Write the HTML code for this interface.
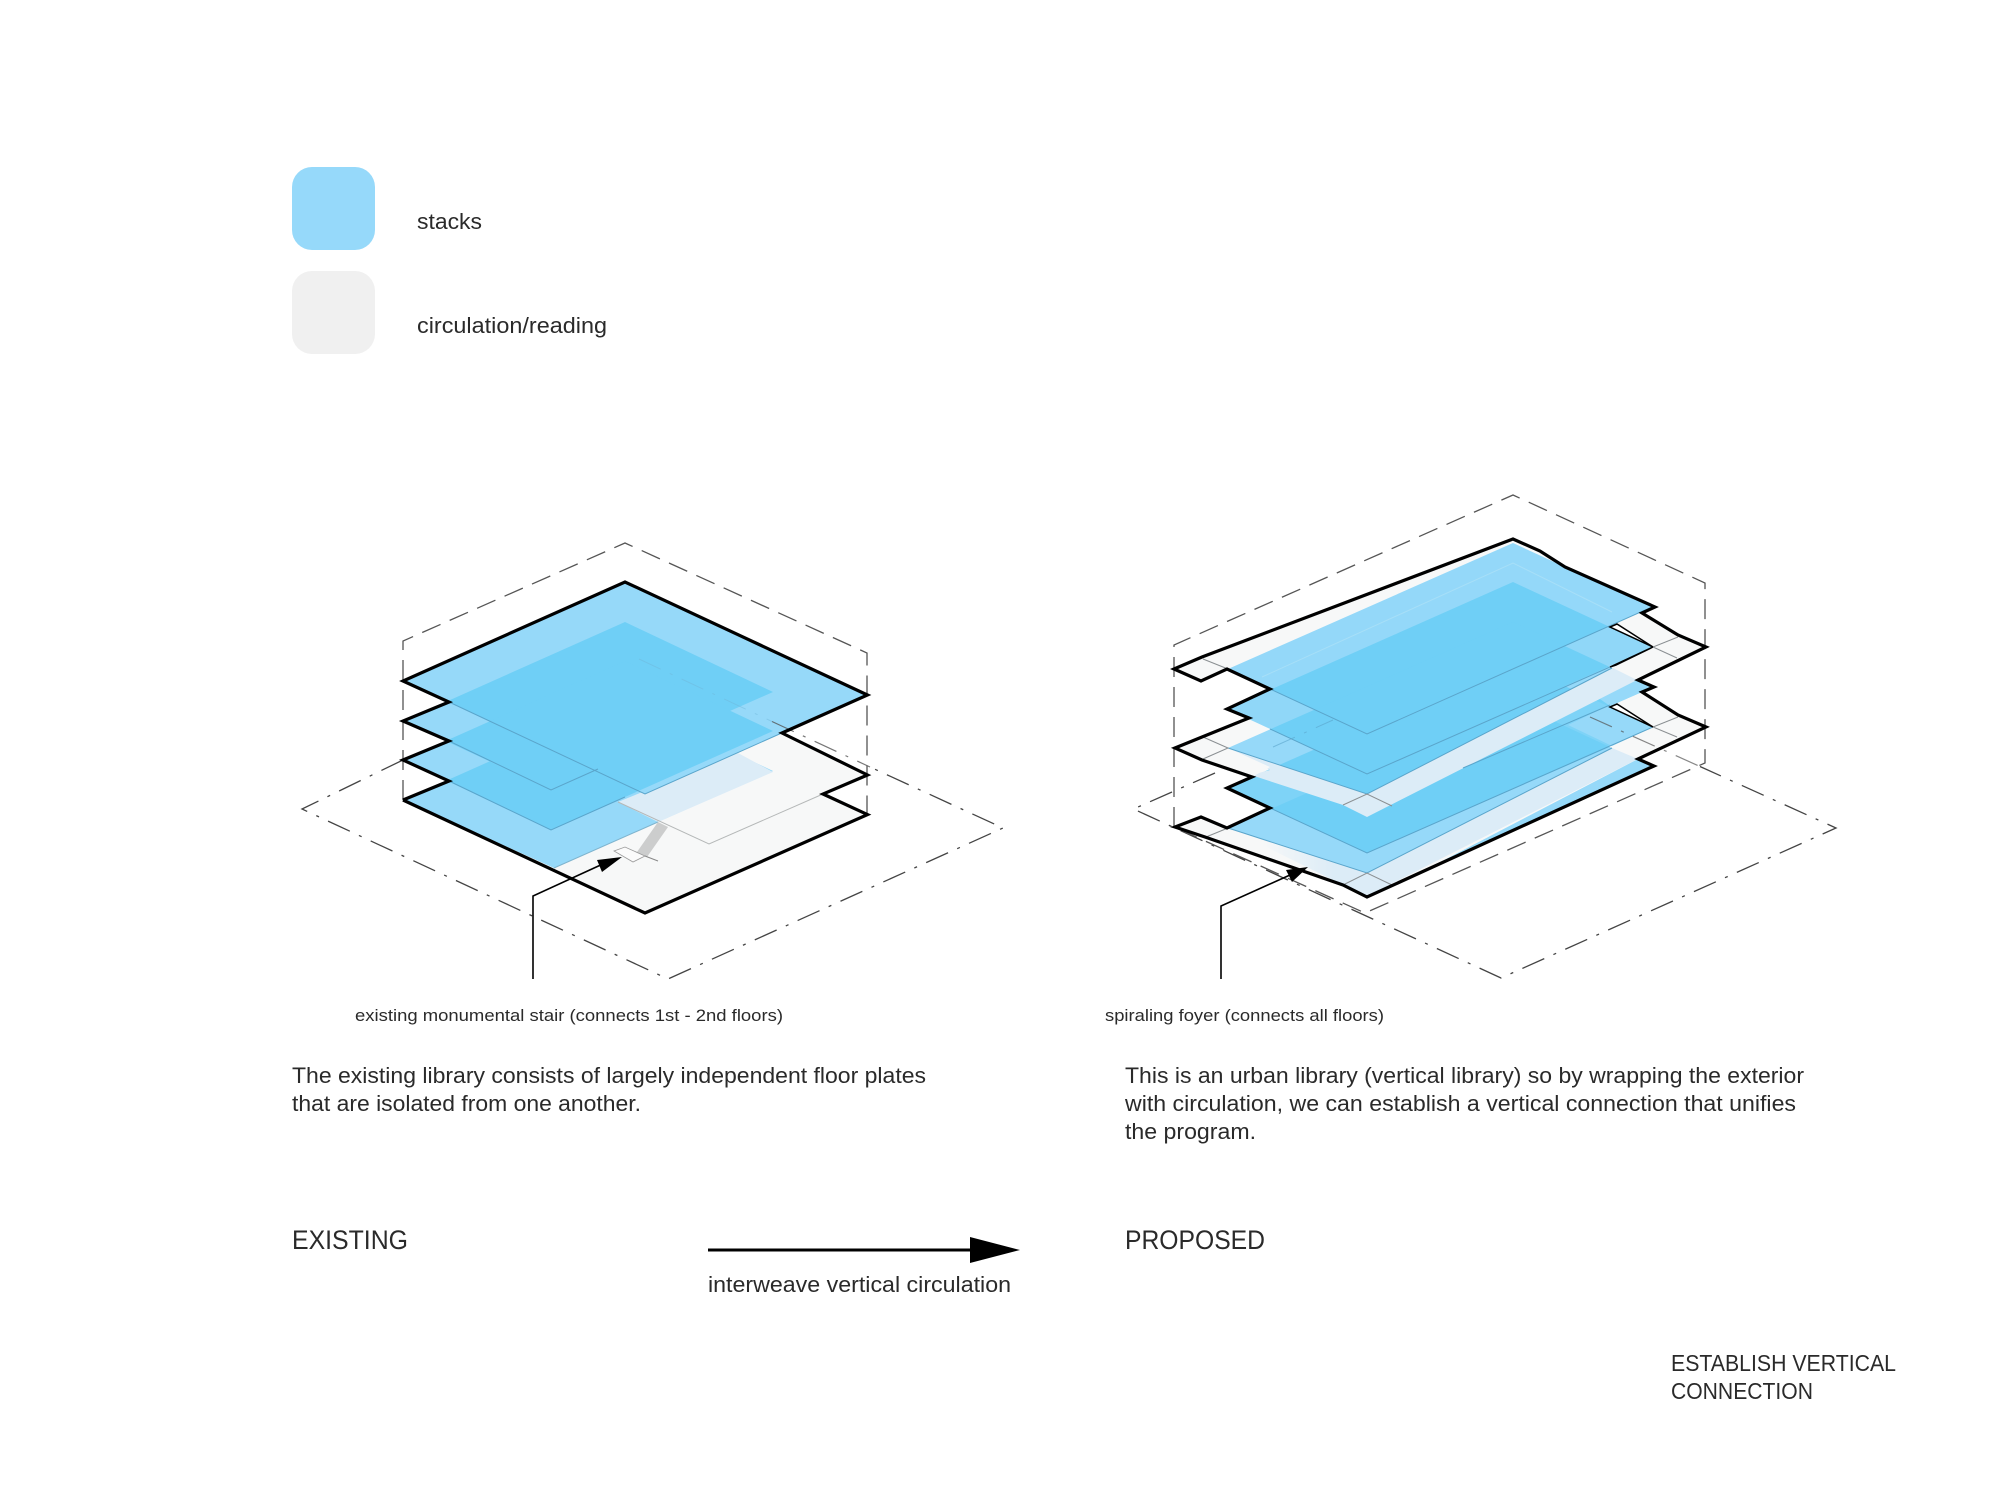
<!DOCTYPE html>
<html><head><meta charset="utf-8"><style>
html,body{margin:0;padding:0;background:#fff;width:2000px;height:1500px;overflow:hidden}
svg{display:block}
text{font-family:"Liberation Sans",sans-serif;fill:#2a2a2a}
</style></head><body>
<svg width="2000" height="1500" viewBox="0 0 2000 1500" xmlns="http://www.w3.org/2000/svg">
<defs>
<clipPath id="p1"><polygon points="403,681 625,582 867.5,695 645,794"/></clipPath>
<clipPath id="p2"><polygon points="403,721 625,622 773,692 551,790"/></clipPath>
<clipPath id="p3"><polygon points="403,760 625,661 773,731 551,830"/></clipPath>
<clipPath id="p4"><polygon points="403,800 625,701 773,771 554,868"/></clipPath>
<clipPath id="a"><polygon points="1228,669 1513,543 1652,607 1367,734"/></clipPath>
<clipPath id="b"><polygon points="1227,709 1513,582 1653,647 1367,774"/></clipPath>
<clipPath id="c"><polygon points="1228,748 1513,622 1612,668 1367,794"/></clipPath>
<clipPath id="d"><polygon points="1227,788 1513,662 1653,727 1367,853"/></clipPath>
<clipPath id="e"><polygon points="1228,828 1513,702 1612,748 1367,873"/></clipPath>
<linearGradient id="g1" x1="1230" x2="1360" y1="0" y2="0" gradientUnits="userSpaceOnUse"><stop offset="0.25" stop-color="#f7f8f8"/><stop offset="0.8" stop-color="#dcecf7"/></linearGradient>
</defs>

<!-- legend -->
<rect x="292" y="167" width="83" height="83" rx="20" fill="#96d9fa"/>
<rect x="292" y="271" width="83" height="83" rx="20" fill="#f0f0f0"/>
<text x="417" y="229" font-size="22" textLength="65" lengthAdjust="spacingAndGlyphs">stacks</text>
<text x="417" y="333" font-size="22" textLength="190" lengthAdjust="spacingAndGlyphs">circulation/reading</text>

<!-- LEFT building -->
<g fill="none" stroke="#444" stroke-width="1.3" stroke-dasharray="24 10 3 10">
<polyline points="403,760 302,809 668,979 1003,828 870,767"/>
</g>
<g fill="none" stroke="#555" stroke-width="1.3" stroke-dasharray="20 10">
<polyline points="403,800 403,641 625,543 867,653 867,815"/>
</g>
<polygon points="403,800 449,781 403,760 449,741 403,721 449,702 403,681 625,582 867.5,695 782,733 867.5,775 823,794 867.5,814.6 645,913" fill="#f7f8f8"/>
<polygon points="403,800 625,701 773,771 554,868" fill="#96d9f9"/>
<polygon points="403,760 625,661 773,731 551,830" fill="#96d9f9"/>
<g clip-path="url(#p4)"><polygon points="403,760 625,661 773,731 551,830" fill="#6fcff6"/></g>
<polygon points="618,802 738,753 773,772 658,822" fill="#dcecf7"/>
<polyline points="618,802 709,844 823,794" fill="none" stroke="#b5b8b8" stroke-width="1"/>
<polygon points="403,721 625,622 773,692 551,790" fill="#96d9f9"/>
<g clip-path="url(#p3)"><polygon points="403,721 625,622 773,692 551,790" fill="#6fcff6"/></g>
<polygon points="403,681 625,582 867.5,695 645,794" fill="#96d9f9"/>
<g clip-path="url(#p1)"><polygon points="403,721 625,622 773,692 551,790" fill="#6fcff6"/><polygon points="403,760 625,661 773,731 551,830" fill="#6fcff6"/></g>
<g fill="none" stroke="#5aa5cb" stroke-width="1">
<polyline points="449,702 645,794 867,695"/>
<polyline points="449,741 551,790 598,769"/>
<polyline points="449,781 551,830 625,797"/>
</g>
<line x1="554" y1="868" x2="658" y2="822" stroke="#7fb4ce" stroke-width="1"/>
<line x1="639" y1="659" x2="772" y2="721.5" stroke="#6fb6d8" stroke-width="1" stroke-dasharray="24 10 3 10" opacity=".45"/>
<line x1="772" y1="721.5" x2="870" y2="767" stroke="#555" stroke-width="1.2" stroke-dasharray="24 10 3 10" opacity=".8"/>
<polygon points="658,822 668,827 647,857 637,852" fill="#cccdcd"/>
<polygon points="614,851 625,847 645,856 633,862" fill="#fbfbfb" stroke="#9a9a9a" stroke-width=".8"/>
<line x1="645" y1="856" x2="658" y2="861" stroke="#888" stroke-width="1"/>
<polyline points="403,800 449,781 403,760 449,741 403,721 449,702 403,681 625,582 867.5,695 782,733 867.5,775 823,794 867.5,814.6 645,913 403,800" fill="none" stroke="#000" stroke-width="3.2" stroke-linejoin="miter"/>
<polyline points="533,979 533,896 605,863" fill="none" stroke="#000" stroke-width="1.6"/>
<polygon points="622,857 597,860 602,872" fill="#000"/>

<!-- RIGHT building -->
<g fill="none" stroke="#444" stroke-width="1.3" stroke-dasharray="24 10 3 10">
<polyline points="1215,773 1133.5,809 1501,978 1836,828 1700,766.5"/>
</g>
<g fill="none" stroke="#555" stroke-width="1.3" stroke-dasharray="20 10">
<polyline points="1174,827 1174,645 1513,495 1705,583 1705,763 1365,913 1174,827"/>
</g>
<polygon points="1174,669 1202,657 1513,539 1540,551 1565,567 1655,607 1642,613 1678,635 1706,647 1638,680 1654,687 1642,692 1678,715 1706,727 1638,759 1654,766 1367,897 1343,885 1205,837 1175,827 1201,817 1227,828 1270,808 1227,788 1252,777 1202,760 1175,748 1202,737 1249,718 1227,709 1270,689 1227,669 1201,681" fill="#f7f8f8"/>
<!-- lower plates -->
<polygon points="1400,883 1638,759 1654,766 1367,897" fill="#96d9f9"/>
<polygon points="1228,828 1513,702 1612,748 1367,873" fill="#96d9f9"/>
<polygon points="1463,768 1637,680 1654,687 1642,692 1610,706 1500,760" fill="#72d0f6"/>
<polygon points="1590,692 1637,680 1654,687 1642,692 1610,706" fill="#96d9f9"/>
<polygon points="1227,788 1513,662 1653,727 1367,853" fill="#7ed3f7"/>
<polygon points="1568,725 1610,705 1653,727 1612,746" fill="#96d9f9"/>
<g clip-path="url(#e)"><polygon points="1227,788 1513,662 1610,705 1568,725 1612,746 1367,853" fill="#6fcff6"/></g>
<polygon points="1228,828 1343,885 1367,897 1389,885 1638,759 1612,748 1367,873" fill="url(#g1)"/>
<!-- plate c and band -->
<polygon points="1228,748 1513,622 1612,668 1367,794" fill="#96d9f9"/>
<g clip-path="url(#d)"><polygon points="1228,748 1513,622 1612,668 1367,794" fill="#6fcff6"/></g>
<polygon points="1251,775 1343,805 1367,817 1637,680 1613,668 1367,794 1228,748 1270,770" fill="#dcecf7"/>
<polygon points="1202,737 1228,748 1270,767 1252,777 1202,760 1175,748" fill="#f7f8f8"/>
<!-- top plates -->
<polygon points="1227,709 1513,582 1653,647 1367,774" fill="#90d7f8"/>
<g clip-path="url(#c)"><polygon points="1227,709 1513,582 1653,647 1367,774" fill="#6fcff6"/></g>
<polygon points="1228,669 1513,543 1652,607 1367,734" fill="#94d8f9"/>
<g clip-path="url(#a)"><polygon points="1227,709 1513,582 1653,647 1367,774" fill="#6fcff6"/><polygon points="1228,748 1513,622 1612,668 1367,794" fill="#6fcff6"/></g>
<polyline points="1262,677 1513,563 1612,612" fill="none" stroke="#a7dff8" stroke-width="1"/>
<!-- edges -->
<g fill="none" stroke="#5aa5cb" stroke-width="1">
<polyline points="1270,689 1367,734 1652,607"/>
<polyline points="1270,729 1367,774 1610,667"/>
<polyline points="1270,808 1367,853 1653,727"/>
<polyline points="1228,828 1367,873 1612,748"/>
<polyline points="1228,748 1367,794 1612,668"/>
<line x1="1463" y1="768" x2="1610" y2="705"/>
</g>
<g fill="none" stroke="#8a8f92" stroke-width="1">
<polyline points="1203,659 1228,669"/>
<polyline points="1203,737 1228,748 1203,759"/>
<polyline points="1343,805 1367,794 1392,806"/>
<polyline points="1206,837 1228,828"/>
<polyline points="1343,885 1367,873 1392,885"/>
<polyline points="1678,637 1653,647 1677,658"/>
<polyline points="1678,717 1653,727 1677,737"/>
</g>
<line x1="1273" y1="747" x2="1333" y2="720" stroke="#5aa5cb" stroke-width="1" stroke-dasharray="24 10 3 10" opacity=".6"/>
<line x1="1590" y1="717" x2="1700" y2="766.5" stroke="#555" stroke-width="1.2" stroke-dasharray="24 10 3 10" opacity=".7"/>
<g fill="#fff" stroke="#000" stroke-width="1.5">
<polygon points="1610,627 1617,624 1653,647"/>
<polygon points="1610,667 1616,665 1653,647"/>
<polygon points="1610,707 1617,704 1653,727"/>
</g>
<polygon points="1174,669 1202,657 1513,539 1540,551 1565,567 1655,607 1642,613 1678,635 1706,647 1638,680 1654,687 1642,692 1678,715 1706,727 1638,759 1654,766 1367,897 1343,885 1205,837 1175,827 1201,817 1227,828 1270,808 1227,788 1252,777 1202,760 1175,748 1202,737 1249,718 1227,709 1270,689 1227,669 1201,681" fill="none" stroke="#000" stroke-width="3.2"/>
<polyline points="1221,979 1221,906 1290,875" fill="none" stroke="#000" stroke-width="1.6"/>
<polygon points="1308,867 1286,870 1292,882" fill="#000"/>

<!-- captions -->
<text x="355" y="1021" font-size="17" textLength="428" lengthAdjust="spacingAndGlyphs">existing monumental stair (connects 1st - 2nd floors)</text>
<text x="1105" y="1021" font-size="17" textLength="279" lengthAdjust="spacingAndGlyphs">spiraling foyer (connects all floors)</text>
<text x="292" y="1083" font-size="22" textLength="634" lengthAdjust="spacingAndGlyphs">The existing library consists of largely independent floor plates</text>
<text x="292" y="1111" font-size="22" textLength="349" lengthAdjust="spacingAndGlyphs">that are isolated from one another.</text>
<text x="1125" y="1083" font-size="22" textLength="679" lengthAdjust="spacingAndGlyphs">This is an urban library (vertical library) so by wrapping the exterior</text>
<text x="1125" y="1111" font-size="22" textLength="671" lengthAdjust="spacingAndGlyphs">with circulation, we can establish a vertical connection that unifies</text>
<text x="1125" y="1139" font-size="22" textLength="131" lengthAdjust="spacingAndGlyphs">the program.</text>
<text x="292" y="1249" font-size="27" textLength="116" lengthAdjust="spacingAndGlyphs">EXISTING</text>
<text x="1125" y="1249" font-size="27" textLength="140" lengthAdjust="spacingAndGlyphs">PROPOSED</text>
<line x1="708" y1="1250" x2="975" y2="1250" stroke="#000" stroke-width="3"/>
<polygon points="970,1237 1020,1250 970,1263" fill="#000"/>
<text x="708" y="1292" font-size="22" textLength="303" lengthAdjust="spacingAndGlyphs">interweave vertical circulation</text>
<text x="1671" y="1371" font-size="23.5" textLength="225" lengthAdjust="spacingAndGlyphs">ESTABLISH VERTICAL</text>
<text x="1671" y="1399" font-size="23.5" textLength="142" lengthAdjust="spacingAndGlyphs">CONNECTION</text>
</svg>
</body></html>
